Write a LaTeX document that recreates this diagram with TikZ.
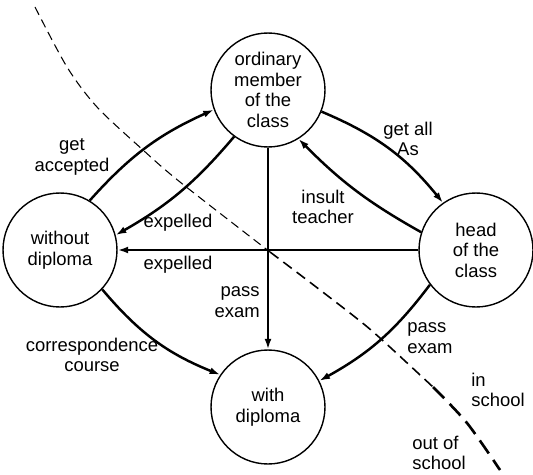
\documentclass[tikz,border=0pt]{standalone}
\usepackage{fontspec}
\setmainfont{Liberation Sans}
\usepackage{tikz}
\usetikzlibrary{arrows.meta,positioning,calc}

\begin{document}
\begin{tikzpicture}[x=0.02cm,y=0.02cm,>={Latex[length=6pt,width=4pt]},
  every node/.style={font=\fontsize{10.5}{11.7}\selectfont},
  stateNode/.style={draw,circle,line width=0.8pt,minimum size=2.28cm,inner sep=0pt,align=center},
  move/.style={->,line width=1.4pt},
  lab/.style={inner sep=0pt,align=center},
  border/.style={line cap=butt}]
  \useasboundingbox (0,0) rectangle (533,474);
  % the school border
  \draw[border,dashed,line width=0.6pt,dash pattern=on 5pt off 3pt]
    plot[smooth] coordinates {(35,467) (67,407) (97,367) (143,324) (180,292) (270,222)};
  \draw[border,line width=0.9pt,dash pattern=on 6pt off 3.5pt]
    plot[smooth] coordinates {(270,222) (307,194) (355,157) (380,136) (433,87)};
  \draw[border,line width=1.5pt,dash pattern=on 9pt off 4.5pt]
    plot[smooth] coordinates {(433,87) (467,51) (500,4)};
  % states
  \node[stateNode] (ordinary) at (268,384) {ordinary\\member\\of the\\class};
  \node[stateNode] (without) at (60,224) {without\\diploma};
  \node[stateNode] (head) at (476,224) {head\\of the\\class};
  \node[stateNode] (withDip) at (268,67) {with\\diploma};
  % moves
  \draw[move] (without.59) to[bend left=12] (ordinary.200);
  \draw[move] (ordinary.234) to[bend left=10] (without.15);
  \draw[move] (ordinary.338) to[bend left=14] (head.125);
  \draw[move] (head.162) to[bend left=8] (ordinary.302);
  \draw[move] (head.west) -- (without.east);
  \draw[move] (ordinary.south) -- (withDip.north);
  \draw[move] (without.317) to[bend right=14] (withDip.146);
  \draw[move] (head.217) to[bend left=12] (withDip.27);
  % labels
  \node[lab] (accepted) at (72,317) {get\\accepted};
  \node[lab] (expelledA) at (178,251) {expelled};
  \node[lab] (expelledB) at (178,209) {expelled};
  \node[lab] (allAs) at (408,335) {get all\\As};
  \node[lab] (insult) at (323,267) {insult\\teacher};
  \node[lab,anchor=east,align=right] (examA) at (260,172) {pass\\exam};
  \node[lab,anchor=west,align=left] (examB) at (407,136) {pass\\exam};
  \node[lab] (course) at (92,119) {correspondence\\course};
  \node[lab,anchor=west,align=left] (inSchool) at (471,84) {in\\school};
  \node[lab,anchor=west,align=left] (outSchool) at (412,21) {out of\\school};
\end{tikzpicture}
\end{document}
